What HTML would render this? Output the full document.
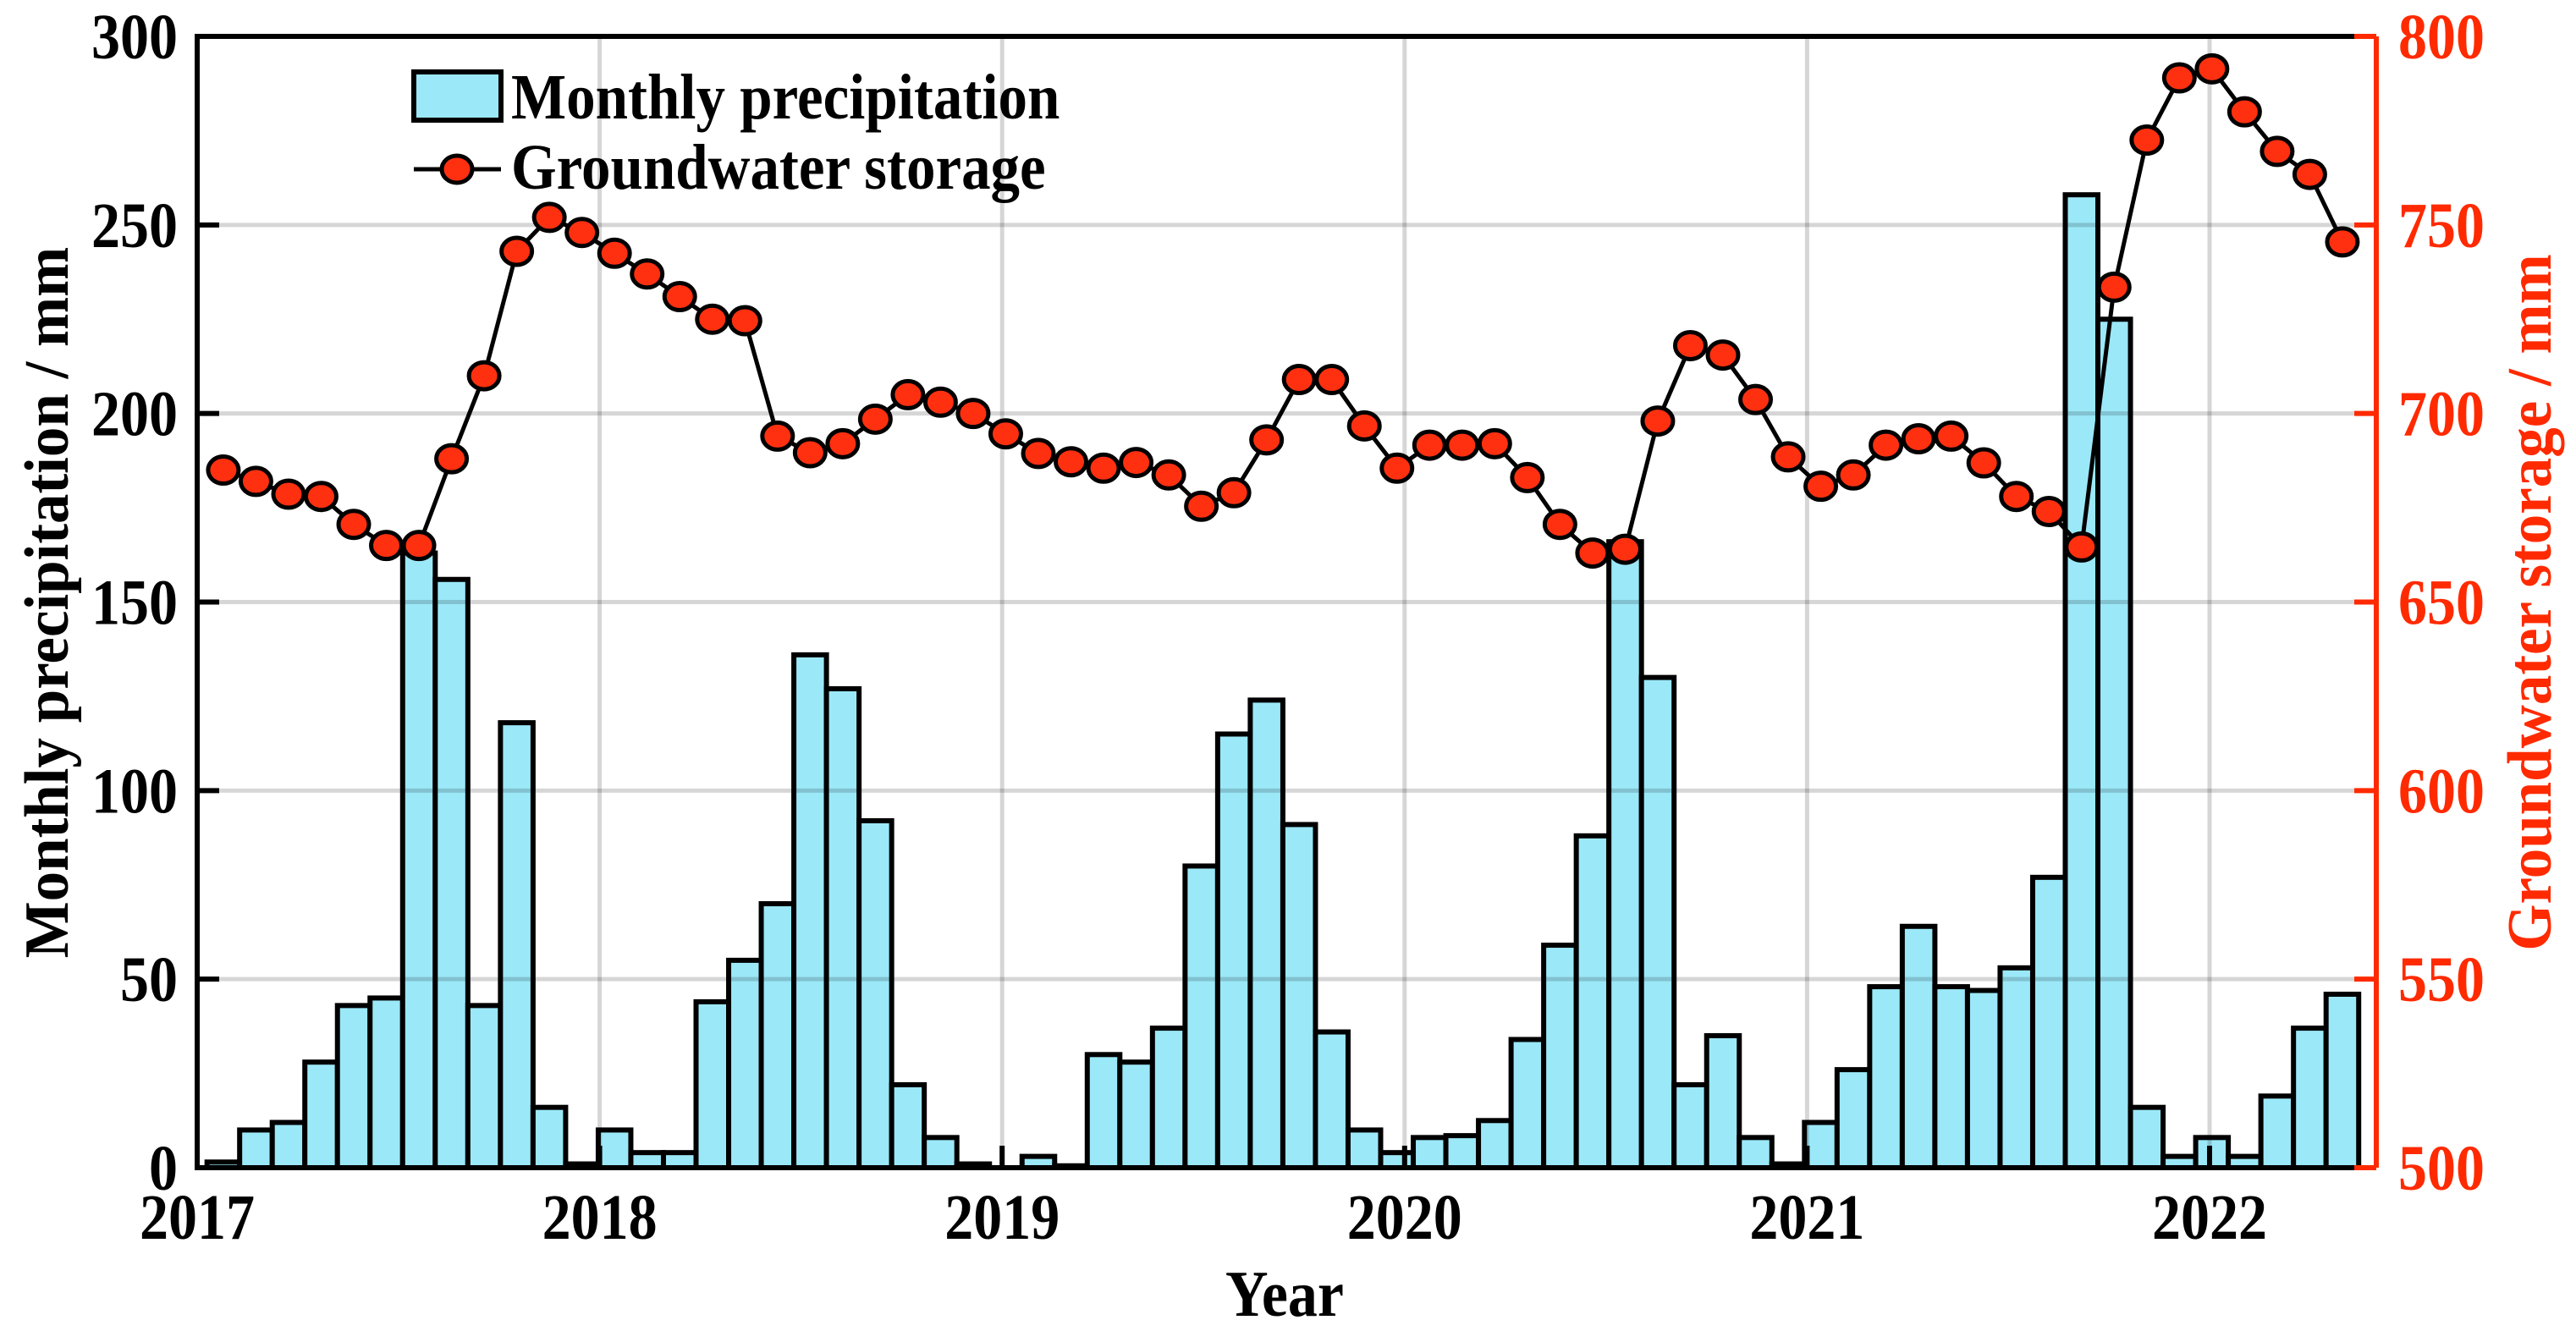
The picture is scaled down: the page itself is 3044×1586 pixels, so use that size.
<!DOCTYPE html>
<html><head><meta charset="utf-8"><style>
html,body{margin:0;padding:0;background:#fff}
svg{display:block}
text{font-family:"Liberation Serif",serif;font-weight:bold}
</style></head><body>
<svg id="chart" width="3044" height="1586" viewBox="0 0 3044 1586" xmlns="http://www.w3.org/2000/svg">
<g id="bars"></g>
<g id="grid"></g>
<g id="line"></g>
<g id="axes"></g>
<g>
  <rect x="489" y="85" width="103" height="57" fill="#9be8f8" stroke="#000" stroke-width="6"/>
  <text transform="translate(604,140) scale(1,1.1)" font-size="69">Monthly precipitation</text>
  <line x1="489" y1="200" x2="592" y2="200" stroke="#000" stroke-width="5"/>
  <ellipse cx="540" cy="200" rx="18" ry="16" fill="#ff3010" stroke="#000" stroke-width="5"/>
  <text transform="translate(604,223) scale(1,1.1)" font-size="69">Groundwater storage</text>
</g>
<text transform="translate(80,712) rotate(-90) scale(1,1.05)" text-anchor="middle" font-size="71">Monthly precipitation / mm</text>
<text transform="translate(3014,712) rotate(-90) scale(1,1.05)" text-anchor="middle" font-size="71" fill="#ff2a00">Groundwater storage / mm</text>
<text transform="translate(1518,1555) scale(1,1.1)" text-anchor="middle" font-size="70">Year</text>
</svg>
<script>
const precip = [1.5,10,12,28,43,45,163,156,43,118,16,1,
  10,4,4,44,55,70,136,127,92,22,8,1,
  0,3,0.5,30,28,37,80,115,124,91,36,10,4,
  8,8.5,12.5,34,59,88,166,130,22,35,8,1,
  12,26,48,64,48,47,53,77,258,225,16,3,8,3,19,37,46];
const groundwater = [685,682,678.6,678,670.6,665,665,688,710,743,752,748,
  742.5,737,731,725,724.6,694,689.6,692,698.5,705,703,700,
  694.6,689.4,687.2,685.5,687,683.7,675.4,679,693,709,709,696.7,685.5,
  691.6,691.6,692,683,670.6,663,664,698,718,715.5,703.7,688.5,680.7,
  683.7,691.6,693.3,694,686.9,678,674,664.6,733.5,772.5,789,791.4,780,769.5,763.4,745.5];
const yearTicks = [2017,2018,2019,2020,2021,2022];
const leftTicks = [0,50,100,150,200,250,300];
const rightTicks = [500,550,600,650,700,750,800];
const seriesStart = 2017.065;
const seriesStep = 0.081;

const NS="http://www.w3.org/2000/svg";
const L=233,R=2808,T=43,B=1380;
const xYear=y=>L+(y-2017)*475.6;
const yL=v=>B-(v-0)/(300-0)*(B-T);
const yR=v=>B-(v-500)/(800-500)*(B-T);
const dateOf=i=>seriesStart+i*seriesStep;
const bw=seriesStep*475.6;
function mk(tag,attrs,parent){const e=document.createElementNS(NS,tag);for(const k in attrs)e.setAttribute(k,attrs[k]);parent.appendChild(e);return e;}
const grid=document.getElementById('grid'),bars=document.getElementById('bars'),line=document.getElementById('line'),axes=document.getElementById('axes');

precip.forEach((v,i)=>{
  const cx=xYear(dateOf(i));
  const r=mk('rect',{x:cx-bw/2,y:yL(v),width:bw,height:B-yL(v),fill:'#9be8f8',stroke:'#000','stroke-width':6},bars);
  
  
});

yearTicks.forEach(y=>{
  const g=mk('line',{x1:xYear(y),x2:xYear(y),y1:T,y2:B,stroke:'rgba(0,0,0,0.16)','stroke-width':5},grid);
  
  
});
leftTicks.forEach(v=>{
  const g=mk('line',{x1:L,x2:R,y1:yL(v),y2:yL(v),stroke:'rgba(0,0,0,0.16)','stroke-width':5},grid);
  
  
});

const pts=groundwater.map((v,i)=>[xYear(dateOf(i)),yR(v)]);
const pl=mk('polyline',{points:pts.map(p=>p.join(',')).join(' '),fill:'none',stroke:'#000','stroke-width':5},line);


pts.forEach(p=>{
  const c=mk('ellipse',{cx:p[0],cy:p[1],rx:18,ry:16,fill:'#ff3010',stroke:'#000','stroke-width':5},line);
  
  
});

const a1=mk('path',{d:`M${R},${T} L${L},${T} L${L},${B} L${R},${B}`,fill:'none',stroke:'#000','stroke-width':6},axes);


const a2=mk('line',{x1:R,x2:R,y1:T,y2:B,stroke:'#ff2a00','stroke-width':6},axes);



leftTicks.forEach(v=>{
  const t=mk('line',{x1:L,x2:L+26,y1:yL(v),y2:yL(v),stroke:'#000','stroke-width':6},axes);
  
  
  const tx=mk('text',{transform:`translate(210,${yL(v)+26}) scale(1,1.12)`,'text-anchor':'end','font-size':68},axes);
  tx.textContent=v;
  
  
});
rightTicks.forEach(v=>{
  const t=mk('line',{x1:R-26,x2:R,y1:yR(v),y2:yR(v),stroke:'#ff2a00','stroke-width':6},axes);
  
  
  const tx=mk('text',{transform:`translate(2834,${yR(v)+26}) scale(1,1.12)`,'text-anchor':'start','font-size':68,fill:'#ff2a00'},axes);
  tx.textContent=v;
  
  
});
yearTicks.forEach(y=>{
  const t=mk('line',{x1:xYear(y),x2:xYear(y),y1:B,y2:B-26,stroke:'#000','stroke-width':6},axes);
  
  
  const tx=mk('text',{transform:`translate(${xYear(y)},1464) scale(1,1.12)`,'text-anchor':'middle','font-size':68},axes);
  tx.textContent=y;
  
  
});
</script>
</body></html>
